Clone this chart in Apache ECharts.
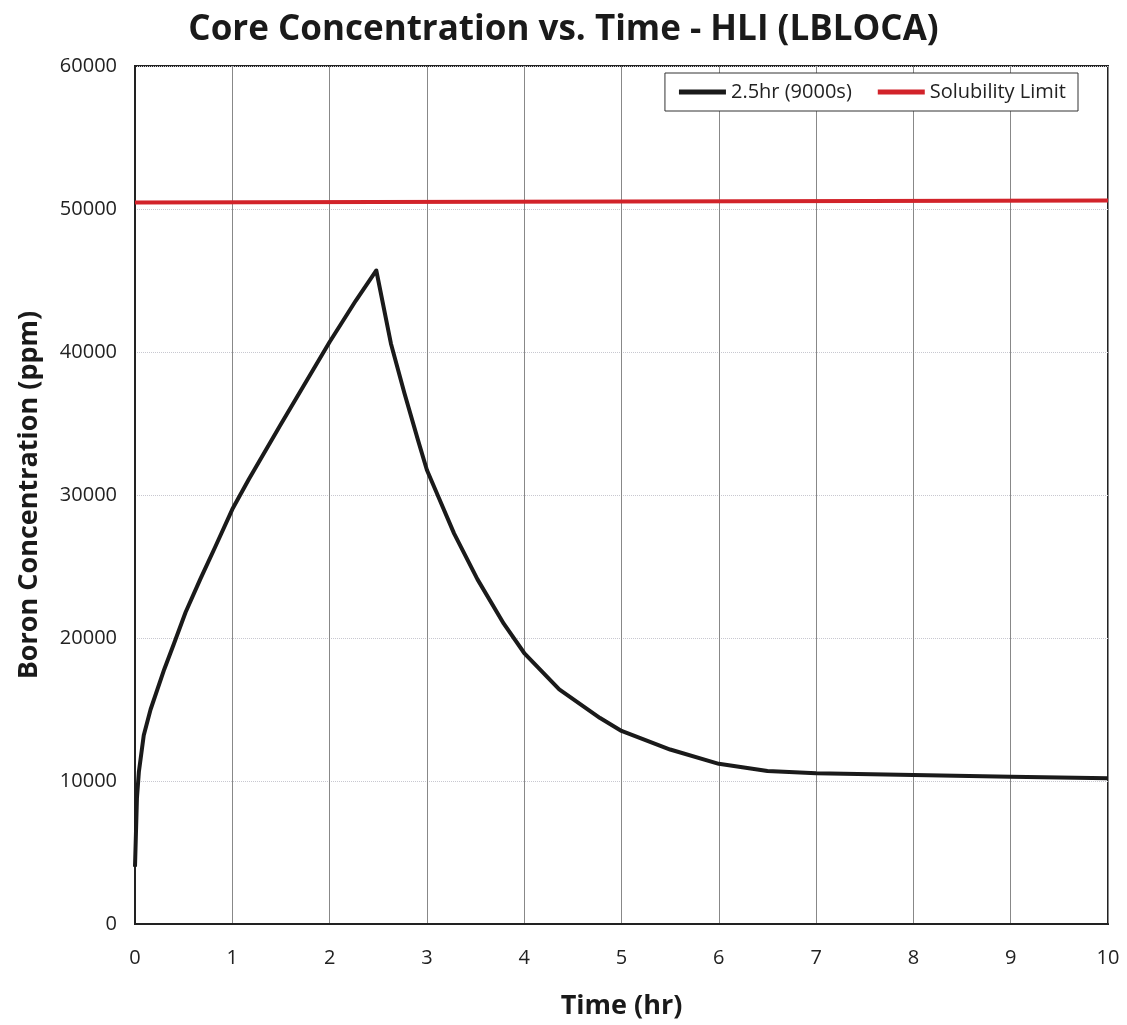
<!DOCTYPE html>
<html>
<head>
<meta charset="utf-8">
<script src="https://cdn.jsdelivr.net/npm/echarts@6/dist/echarts.min.js"></script>
<style>
html,body{margin:0;padding:0;background:#fff;}
#chart{width:1127px;height:1025px;}
</style>
</head>
<body>
<div id="chart"></div>
<script>
var timeHr = [0, 0.02, 0.04, 0.09, 0.16, 0.30, 0.40, 0.52, 0.67, 0.83, 1.0, 1.17, 1.49, 2.0, 2.27, 2.48, 2.63, 2.77, 2.91, 3.0, 3.11, 3.28, 3.52, 3.79, 4.0, 4.36, 4.78, 5.0, 5.5, 6.0, 6.5, 7, 8, 9, 10];
var boron = [4000, 8800, 10650, 13200, 15000, 17800, 19600, 21800, 24100, 26450, 29000, 31100, 34850, 40700, 43600, 45700, 40600, 37100, 33800, 31750, 30000, 27300, 24100, 21000, 18950, 16400, 14400, 13500, 12200, 11200, 10700, 10540, 10420, 10300, 10200];
var limitTime = [0, 10];
var limitValue = [50450, 50600];
var seriesNames = ['2.5hr (9000s)', 'Solubility Limit'];
var titleText = 'Core Concentration vs. Time - HLI (LBLOCA)';
var xName = 'Time (hr)';
var yName = 'Boron Concentration (ppm)';

function pairs(xs, ys){ return xs.map(function(x,i){ return [x, ys[i]]; }); }

var font = '"Open Sans", Lato, sans-serif';
var chart = echarts.init(document.getElementById('chart'));
chart.setOption({
  animation: false,
  backgroundColor: '#fff',
  title: {
    text: titleText, left: 'center', top: 8,
    textStyle: {fontFamily: font, fontSize: 35, fontWeight: 'bold', color: '#1a1a1a'}
  },
  legend: {
    right: 49, top: 73,
    padding: [9, 12, 9, 14],
    itemGap: 26,
    itemWidth: 47, itemHeight: 5,
    icon: 'rect',
    borderColor: '#333', borderWidth: 1,
    backgroundColor: '#fff',
    textStyle: {fontFamily: font, fontSize: 20, color: '#222'},
    data: seriesNames
  },
  grid: {
    left: 135, right: 19, top: 66, bottom: 100,
    show: true, borderColor: '#222', borderWidth: 2, backgroundColor: 'transparent'
  },
  xAxis: {
    type: 'value', min: 0, max: 10, interval: 1,
    name: xName, nameLocation: 'middle', nameGap: 69,
    nameTextStyle: {fontFamily: font, fontSize: 27, fontWeight: 'bold', color: '#1a1a1a'},
    axisLine: {lineStyle: {color: '#222', width: 2}},
    axisTick: {show: false},
    axisLabel: {fontFamily: font, fontSize: 20, color: '#222', margin: 24},
    splitLine: {show: true, lineStyle: {color: '#888', width: 1, type: 'solid'}}
  },
  yAxis: {
    type: 'value', min: 0, max: 60000, interval: 10000,
    name: yName, nameLocation: 'middle', nameGap: 92,
    nameTextStyle: {fontFamily: font, fontSize: 27, fontWeight: 'bold', color: '#1a1a1a'},
    axisLine: {show: true, lineStyle: {color: '#222', width: 2}},
    axisTick: {show: false},
    axisLabel: {fontFamily: font, fontSize: 20, color: '#222', margin: 18, formatter: function(v){ return String(v); }},
    splitLine: {show: true, lineStyle: {color: '#c8c8d0', width: 1, type: 'dotted'}}
  },
  series: [
    {
      name: seriesNames[0], type: 'line', data: pairs(timeHr, boron),
      showSymbol: false, symbol: 'none',
      lineStyle: {color: '#1a1a1a', width: 4, join: 'round'},
      itemStyle: {color: '#1a1a1a'}
    },
    {
      name: seriesNames[1], type: 'line', data: pairs(limitTime, limitValue),
      showSymbol: false, symbol: 'none',
      lineStyle: {color: '#d2232a', width: 4},
      itemStyle: {color: '#d2232a'}
    }
  ]
});
</script>
</body>
</html>
